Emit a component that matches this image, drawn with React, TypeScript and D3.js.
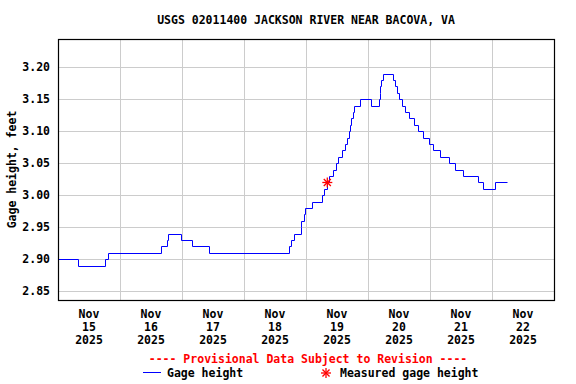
import React from "react";
import * as d3 from "d3";

const title = "USGS 02011400 JACKSON RIVER NEAR BACOVA, VA";
const yLabel = "Gage height, feet";
const yTicks = [2.85, 2.9, 2.95, 3.0, 3.05, 3.1, 3.15, 3.2];
const dayTicks = [
  "2025-11-15",
  "2025-11-16",
  "2025-11-17",
  "2025-11-18",
  "2025-11-19",
  "2025-11-20",
  "2025-11-21",
  "2025-11-22",
];

// step changes of the gage height (value holds until next time)
const times = [
  "2025-11-15 00:00", "2025-11-15 07:45", "2025-11-15 18:15", "2025-11-15 19:30",
  "2025-11-16 15:45", "2025-11-16 18:00", "2025-11-16 18:30", "2025-11-16 23:30",
  "2025-11-17 03:45", "2025-11-17 10:30", "2025-11-18 17:30", "2025-11-18 18:15",
  "2025-11-18 19:30", "2025-11-18 22:00", "2025-11-18 22:15", "2025-11-18 23:15",
  "2025-11-18 23:45", "2025-11-19 02:30", "2025-11-19 06:00", "2025-11-19 07:00",
  "2025-11-19 08:00", "2025-11-19 09:00", "2025-11-19 10:30", "2025-11-19 11:30",
  "2025-11-19 12:30", "2025-11-19 14:00", "2025-11-19 15:15", "2025-11-19 16:00",
  "2025-11-19 16:30", "2025-11-19 17:00", "2025-11-19 17:30", "2025-11-19 18:00",
  "2025-11-19 18:30", "2025-11-19 21:00", "2025-11-20 01:15", "2025-11-20 04:15",
  "2025-11-20 04:30", "2025-11-20 04:45", "2025-11-20 05:00", "2025-11-20 05:45",
  "2025-11-20 09:30", "2025-11-20 10:30", "2025-11-20 11:15", "2025-11-20 12:00",
  "2025-11-20 13:15", "2025-11-20 14:15", "2025-11-20 16:00", "2025-11-20 17:45",
  "2025-11-20 19:30", "2025-11-20 21:15", "2025-11-20 23:30", "2025-11-21 01:00",
  "2025-11-21 04:00", "2025-11-21 07:15", "2025-11-21 09:45", "2025-11-21 12:45",
  "2025-11-21 18:45", "2025-11-21 20:30", "2025-11-22 01:00", "2025-11-22 05:45",
];
const values = [
  2.9, 2.89, 2.9, 2.91,
  2.92, 2.93, 2.94, 2.93,
  2.92, 2.91, 2.92, 2.93,
  2.94, 2.95, 2.96, 2.97,
  2.98, 2.99, 3.0, 3.01,
  3.02, 3.03, 3.04, 3.05,
  3.06, 3.07, 3.08, 3.09,
  3.1, 3.11, 3.12, 3.13,
  3.14, 3.15, 3.14, 3.15,
  3.16, 3.17, 3.18, 3.19,
  3.18, 3.17, 3.16, 3.15,
  3.14, 3.13, 3.12, 3.11,
  3.1, 3.09, 3.08, 3.07,
  3.06, 3.05, 3.04, 3.03,
  3.02, 3.01, 3.02, 3.02,
];

const measuredTime = "2025-11-19 08:15";
const measuredValue = 3.02;

const W = 576;
const H = 384;
const left = 58;
const right = 554;
const top = 39;
const bottom = 300;
const font = "'DejaVu Sans Mono', monospace";

export default function App() {
  const parse = d3.timeParse("%Y-%m-%d %H:%M");
  const parseDay = d3.timeParse("%Y-%m-%d");
  const start = parseDay(dayTicks[0]) as Date;
  const end = d3.timeDay.offset(parseDay(dayTicks[dayTicks.length - 1]) as Date, 1);

  const x = d3.scaleTime().domain([start, end]).range([left, right]);
  const y = d3.scaleLinear().domain([2.8364, 3.2442]).range([bottom, top]);

  const data = times.map((t, i) => ({ t: parse(t) as Date, v: values[i] }));
  const line = d3
    .line<{ t: Date; v: number }>()
    .x((d) => Math.round(x(d.t)) + 0.5)
    .y((d) => Math.round(y(d.v)) + 0.5)
    .curve(d3.curveStepAfter);

  const mx = x(parse(measuredTime) as Date);
  const my = y(measuredValue);
  const star = (cx: number, cy: number, r: number) =>
    d3.range(4).map((k) => {
      const a = (k * Math.PI) / 4;
      return (
        <line
          key={k}
          x1={cx - r * Math.cos(a)}
          y1={cy - r * Math.sin(a)}
          x2={cx + r * Math.cos(a)}
          y2={cy + r * Math.sin(a)}
          stroke="#ff0000"
          strokeWidth={1.3}
        />
      );
    });

  return (
    <svg
      width={W}
      height={H}
      style={{ position: "fixed", left: 0, top: 0, background: "#fff" }}
      fontFamily={font}
      fontWeight="bold"
      fontSize={11.5}
    >
      <text x={306} y={24} textAnchor="middle" fill="#000">
        {title}
      </text>

      {/* grid */}
      <g stroke="#cccccc" strokeWidth={1} shapeRendering="crispEdges">
        {yTicks.map((t) => (
          <line key={t} x1={left} x2={right} y1={Math.round(y(t)) + 0.5} y2={Math.round(y(t)) + 0.5} />
        ))}
        {dayTicks.slice(1).map((d) => {
          const xx = Math.round(x(parseDay(d) as Date)) + 0.5;
          return <line key={d} x1={xx} x2={xx} y1={top} y2={bottom} />;
        })}
      </g>

      {/* y tick labels */}
      {yTicks.map((t) => (
        <text key={t} x={50} y={y(t) + 4} textAnchor="end" fill="#000">
          {d3.format(".2f")(t)}
        </text>
      ))}
      <text
        transform={`translate(16,${(top + bottom) / 2}) rotate(-90)`}
        textAnchor="middle"
        fill="#000"
      >
        {yLabel}
      </text>

      {/* x labels */}
      {dayTicks.map((d) => {
        const day = parseDay(d) as Date;
        const cx = x(d3.timeHour.offset(day, 12));
        return (
          <text key={d} x={cx} textAnchor="middle" fill="#000">
            <tspan x={cx} y={318}>{d3.timeFormat("%b")(day)}</tspan>
            <tspan x={cx} y={331}>{d3.timeFormat("%d")(day)}</tspan>
            <tspan x={cx} y={344}>{d3.timeFormat("%Y")(day)}</tspan>
          </text>
        );
      })}

      {/* series */}
      <path d={line(data) || ""} fill="none" stroke="#0000ff" strokeWidth={1} />
      {star(mx, my, 5)}

      {/* frame */}
      <rect
        x={left + 0.5}
        y={top + 0.5}
        width={right - left}
        height={bottom - top}
        fill="none"
        stroke="#000"
        strokeWidth={1.2}
      />

      {/* footer */}
      <text x={308} y={363} textAnchor="middle" fill="#ff0000">
        ---- Provisional Data Subject to Revision ----
      </text>
      <line x1={143} x2={161} y1={372.5} y2={372.5} stroke="#0000ff" strokeWidth={1} />
      <text x={167} y={377} fill="#000">Gage height</text>
      {star(326, 373, 5)}
      <text x={340} y={377} fill="#000">Measured gage height</text>
    </svg>
  );
}
